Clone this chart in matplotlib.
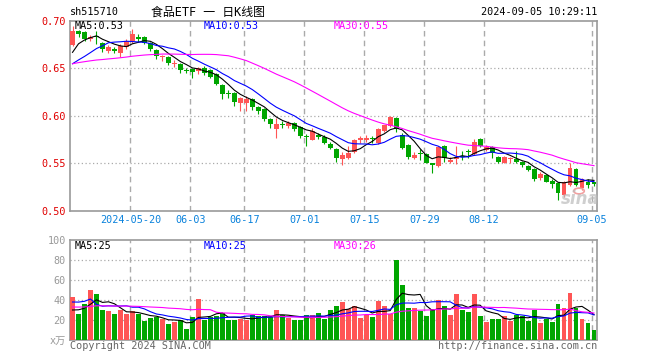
import matplotlib
matplotlib.use("Agg")
import matplotlib.pyplot as plt
import numpy as np
import pandas as pd

W, H = 660, 360

# daily K-line, 2024-05-06 .. 2024-09-05 (88 trading days)
OPEN = [0.675, 0.689, 0.688, 0.681, 0.684, 0.677, 0.668, 0.671, 0.666, 0.673,
        0.679, 0.683, 0.683, 0.677, 0.669, 0.662, 0.662, 0.655, 0.655, 0.648,
        0.650, 0.647, 0.650, 0.648, 0.644, 0.633, 0.624, 0.624, 0.614, 0.614,
        0.618, 0.610, 0.607, 0.597, 0.586, 0.592, 0.590, 0.593, 0.588, 0.579,
        0.575, 0.580, 0.578, 0.571, 0.565, 0.555, 0.556, 0.562, 0.575, 0.575,
        0.577, 0.572, 0.584, 0.590, 0.598, 0.580, 0.570, 0.556, 0.561, 0.560,
        0.550, 0.547, 0.568, 0.552, 0.555, 0.558, 0.563, 0.560, 0.576, 0.564,
        0.567, 0.557, 0.551, 0.555, 0.555, 0.552, 0.547, 0.544, 0.535, 0.538,
        0.532, 0.529, 0.517, 0.527, 0.544, 0.524, 0.531, 0.530]
HIGH = [0.695, 0.691, 0.689, 0.685, 0.689, 0.678, 0.675, 0.673, 0.676, 0.681,
        0.692, 0.686, 0.684, 0.678, 0.670, 0.6642, 0.663, 0.659, 0.656, 0.650,
        0.651, 0.652, 0.653, 0.649, 0.645, 0.634, 0.627, 0.625, 0.620, 0.621,
        0.619, 0.611, 0.608, 0.598, 0.598, 0.595, 0.595, 0.594, 0.589, 0.581,
        0.587, 0.582, 0.580, 0.573, 0.566, 0.562, 0.568, 0.576, 0.579, 0.580,
        0.579, 0.587, 0.591, 0.600, 0.599, 0.582, 0.571, 0.562, 0.565, 0.561,
        0.551, 0.568, 0.569, 0.557, 0.568, 0.563, 0.565, 0.576, 0.577, 0.570,
        0.568, 0.558, 0.558, 0.557, 0.563, 0.553, 0.548, 0.545, 0.541, 0.539,
        0.534, 0.530, 0.532, 0.550, 0.545, 0.535, 0.534, 0.531]
LOW = [0.674, 0.683, 0.679, 0.679, 0.676, 0.667, 0.666, 0.666, 0.662, 0.671,
       0.677, 0.678, 0.676, 0.668, 0.660, 0.658, 0.654, 0.652, 0.645, 0.645,
       0.640, 0.644, 0.643, 0.640, 0.633, 0.618, 0.619, 0.611, 0.605, 0.605,
       0.606, 0.602, 0.595, 0.587, 0.577, 0.587, 0.587, 0.584, 0.577, 0.568,
       0.575, 0.576, 0.571, 0.565, 0.552, 0.548, 0.555, 0.561, 0.572, 0.573,
       0.572, 0.571, 0.583, 0.588, 0.583, 0.565, 0.555, 0.555, 0.554, 0.550,
       0.540, 0.546, 0.552, 0.550, 0.549, 0.554, 0.556, 0.559, 0.567, 0.563,
       0.556, 0.551, 0.550, 0.550, 0.550, 0.546, 0.542, 0.532, 0.533, 0.530,
       0.524, 0.512, 0.515, 0.526, 0.526, 0.522, 0.524, 0.526]
CLOSE = [0.689, 0.686, 0.681, 0.683, 0.683, 0.671, 0.673, 0.668, 0.674, 0.679,
         0.686, 0.681, 0.677, 0.670, 0.663, 0.6635, 0.656, 0.656, 0.648, 0.647,
         0.646, 0.651, 0.645, 0.641, 0.634, 0.623, 0.623, 0.615, 0.619, 0.618,
         0.609, 0.605, 0.597, 0.592, 0.592, 0.591, 0.593, 0.586, 0.579, 0.578,
         0.584, 0.578, 0.572, 0.566, 0.556, 0.559, 0.561, 0.575, 0.577, 0.577,
         0.576, 0.586, 0.590, 0.599, 0.586, 0.566, 0.557, 0.559, 0.560, 0.551,
         0.548, 0.567, 0.556, 0.554, 0.557, 0.557, 0.562, 0.573, 0.568, 0.567,
         0.561, 0.552, 0.557, 0.556, 0.552, 0.548, 0.543, 0.534, 0.539, 0.531,
         0.528, 0.519, 0.531, 0.545, 0.527, 0.534, 0.527, 0.528]
# volume, x万
VOL = [43, 26, 36, 50, 46, 30, 29, 26, 30, 26,
       29, 26, 19, 22, 23, 21, 16, 18, 20, 11,
       23, 41, 20, 23, 24, 27, 20, 20, 21, 20,
       25, 24, 24, 23, 30, 25, 22, 20, 20, 25,
       25, 27, 21, 30, 34, 38, 31, 34, 22, 25,
       23, 39, 34, 26, 80, 55, 32, 32, 29, 24,
       31, 40, 34, 25, 46, 30, 28, 46, 24, 18,
       21, 21, 24, 19, 25, 24, 19, 30, 17, 21,
       18, 36, 32, 47, 32, 21, 17, 10]

# sessions before the visible window (only feed the moving averages)
PRE_CLOSE = [0.650, 0.652, 0.655, 0.658, 0.656, 0.653, 0.651, 0.654, 0.657, 0.660,
             0.662, 0.659, 0.657, 0.655, 0.653, 0.656, 0.658, 0.654, 0.651, 0.649,
             0.646, 0.644, 0.642, 0.641, 0.642, 0.641, 0.661, 0.6705, 0.6735]
PRE_VOL = [28, 32, 35, 27, 30, 33, 29, 31, 26, 34,
           30, 28, 32, 31, 29, 33, 27, 30, 32, 33,
           27, 28, 27, 100, 48, 25, 28, 30, 24]

TICK_POS = [10, 20, 29, 39, 49, 59, 69, 87]
TICK_LABELS = ["2024-05-20", "06-03", "06-17", "07-01", "07-15", "07-29", "08-12", "09-05"]

TITLE_CODE = "sh515710"
TITLE = "食品ETF 一 日K线图"
STAMP = "2024-09-05 10:29:11"
PRICE_MA_TEXT = ["MA5:0.53", "MA10:0.53", "MA30:0.55"]
VOL_MA_TEXT = ["MA5:25", "MA10:25", "MA30:26"]

RED = "#ff5555"
GREEN = "#00a600"
MA_COLORS = ["black", "#0000ff", "#ff00ff"]
GRID = "#aaaaaa"
MONO = "DejaVu Sans Mono"
FS = 7.3


def box(x0, y0, x1, y1):
    return [x0 / W, 1 - y1 / H, (x1 - x0) / W, (y1 - y0) / H]


def ftext(x, y, s, **kw):
    kw.setdefault("family", MONO)
    kw.setdefault("fontsize", FS)
    kw.setdefault("va", "center")
    fig.text(x / W, 1 - y / H, s, **kw)


o, h, l, c = (np.array(a) for a in (OPEN, HIGH, LOW, CLOSE))
v = np.array(VOL, dtype=float)
x = np.arange(len(c))
colors = np.where(c >= o, RED, GREEN)

n_pre = len(PRE_CLOSE)
close_all = pd.Series(PRE_CLOSE + CLOSE)
vol_all = pd.Series(PRE_VOL + VOL, dtype=float)
price_ma = [close_all.rolling(k).mean().to_numpy()[n_pre:] for k in (5, 10, 30)]
vol_ma = [vol_all.rolling(k).mean().to_numpy()[n_pre:] for k in (5, 10, 30)]

fig = plt.figure(figsize=(W / 100, H / 100), dpi=100, facecolor="white")
ax = fig.add_axes(box(70, 21, 597, 211))
axv = fig.add_axes(box(70, 240, 597, 340))

xlim = (-0.42, 87.5)
grid_x = [p - 0.33 for p in TICK_POS]

# price panel
ax.vlines(x, l, h, colors=colors, linewidth=0.8, zorder=3)
ax.bar(x, np.maximum(np.abs(c - o), 0.0007), bottom=np.minimum(o, c), width=0.82,
       color=colors, linewidth=0, zorder=4)
for ma, col in zip(price_ma, MA_COLORS):
    ax.plot(x, ma, color=col, linewidth=0.8, zorder=5)
ax.set_xlim(*xlim)
ax.set_ylim(0.50, 0.70)
ax.set_yticks([0.50, 0.55, 0.60, 0.65, 0.70])
ax.set_yticklabels([f"{t:.2f}" for t in [0.50, 0.55, 0.60, 0.65, 0.70]],
                   color="#e00000", family=MONO, fontsize=FS)
ax.set_xticks(grid_x)
ax.set_xticklabels(TICK_LABELS, color="#0a82dc", family=MONO, fontsize=FS)
ax.tick_params(length=0, pad=3)
for yv in (0.55, 0.60, 0.65):
    ax.axhline(yv, color=GRID, linewidth=0.9, linestyle=(0, (1, 2)), zorder=1)

# volume panel
axv.bar(x, v, width=0.82, color=colors, linewidth=0, zorder=3)
for ma, col in zip(vol_ma, MA_COLORS):
    axv.plot(x, ma, color=col, linewidth=0.8, zorder=5)
axv.set_xlim(*xlim)
axv.set_ylim(0, 100)
axv.set_yticks([0, 20, 40, 60, 80, 100])
axv.set_yticklabels(["x万", "20", "40", "60", "80", "100"], color="#999999",
                    family=[MONO, "Noto Sans CJK SC"], fontsize=FS)
axv.set_xticks(grid_x)
axv.set_xticklabels([])
axv.tick_params(length=0, pad=3)
for yv in (20, 40, 60, 80):
    axv.axhline(yv, color=GRID, linewidth=0.9, linestyle=(0, (1, 2)), zorder=1)

for a in (ax, axv):
    for gx in grid_x:
        a.axvline(gx, color=GRID, linewidth=1.0, linestyle=(0, (4, 3)), zorder=1)
    for sp in a.spines.values():
        sp.set_color("#999999")
        sp.set_linewidth(1.2)

# texts
ftext(70, 12, TITLE_CODE, color="black")
ftext(151, 12, TITLE, color="black", family=[MONO, "Noto Sans CJK SC"], fontsize=8.6)
ftext(597, 12, STAMP, color="black", ha="right")
for xp, s, col in zip((75, 204, 334), PRICE_MA_TEXT, MA_COLORS):
    ftext(xp, 26, s, color=col)
for xp, s, col in zip((75, 204, 334), VOL_MA_TEXT, MA_COLORS):
    ftext(xp, 246, s, color=col)
ftext(70, 346, "Copyright 2024 SINA.COM", color="#666666")
ftext(597, 346, "http://finance.sina.com.cn", color="#666666", ha="right")

# sina watermark
fig.text(580 / W, 1 - 199 / H, "sina", color="#bbbbbb", alpha=0.7, fontsize=12,
         fontweight="bold", style="italic", ha="center", va="center", family="DejaVu Sans")
fig.patches.append(plt.Circle((579 / W, 1 - 191 / H), 0.008, transform=fig.transFigure,
                              facecolor="none", edgecolor="#f2a0a0", linewidth=1.2))

fig.savefig("out.png", dpi=100, facecolor="white")
